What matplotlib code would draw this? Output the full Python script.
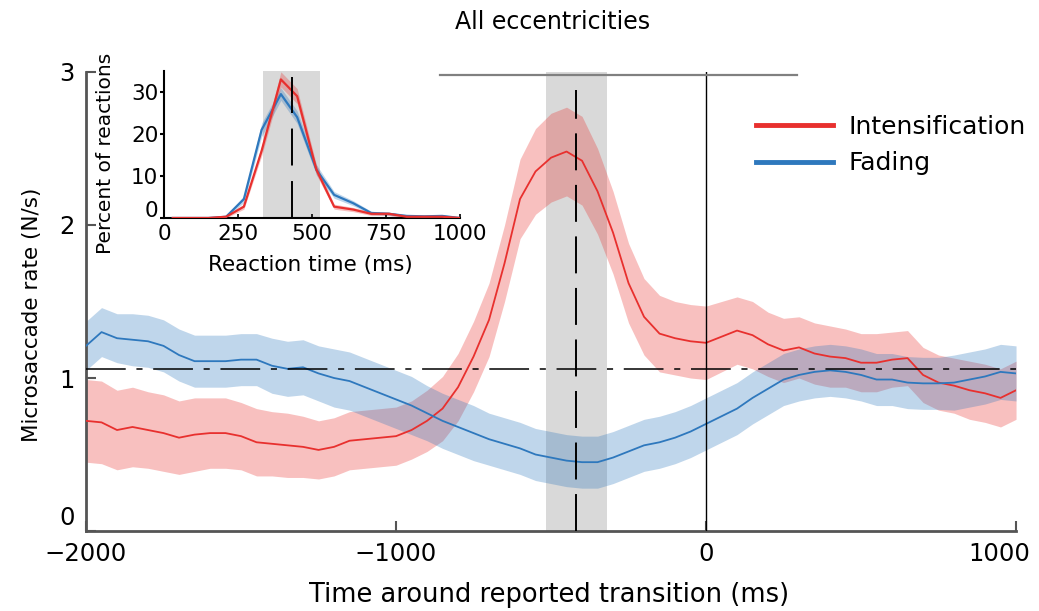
"""
Microsaccade rate around the reported transition (all eccentricities),
with the reaction time distribution as an inset.
"""
import numpy as np
import matplotlib
matplotlib.use('Agg')
import matplotlib.pyplot as plt
import matplotlib.transforms as mtransforms

plt.rcParams['font.family'] = ['DejaVu Sans']

# ---- main panel data (50 ms grid) ----
time_ms = np.arange(-2000, 1001, 50)
intens_rate = [0.72, 0.71, 0.66, 0.68, 0.66, 0.64, 0.61, 0.63, 0.64, 0.64,
               0.62, 0.58, 0.57, 0.56, 0.55, 0.53, 0.55, 0.59, 0.60, 0.61,
               0.62, 0.66, 0.72, 0.80, 0.94, 1.14, 1.38, 1.75, 2.17, 2.35,
               2.44, 2.48, 2.42, 2.22, 1.95, 1.62, 1.40, 1.29, 1.26, 1.24,
               1.23, 1.27, 1.31, 1.28, 1.22, 1.18, 1.20, 1.16, 1.14, 1.13,
               1.10, 1.10, 1.12, 1.13, 1.02, 0.97, 0.95, 0.92, 0.90, 0.87,
               0.92]
intens_err = [0.27, 0.27, 0.26, 0.26, 0.25, 0.25, 0.24,
              0.24, 0.23, 0.23, 0.22, 0.22, 0.21, 0.21, 0.20,
              0.19, 0.19, 0.19, 0.19, 0.19, 0.19, 0.19,
              0.20, 0.21, 0.22, 0.23, 0.24, 0.25, 0.26,
              0.28, 0.29, 0.29, 0.29, 0.28, 0.27,
              0.26, 0.25, 0.25, 0.24, 0.24, 0.24,
              0.23, 0.22, 0.22, 0.21, 0.21, 0.20, 0.20, 0.20, 0.19, 0.19,
              0.19, 0.18, 0.18, 0.18, 0.18, 0.18, 0.19, 0.19, 0.19, 0.19]
fading_rate = [1.21, 1.30, 1.26, 1.25, 1.24, 1.21, 1.15, 1.11, 1.11, 1.11,
               1.12, 1.12, 1.08, 1.06, 1.07, 1.03, 1.00, 0.98, 0.94, 0.90,
               0.86, 0.82, 0.77, 0.72, 0.68, 0.64, 0.60, 0.57, 0.54, 0.50,
               0.48, 0.46, 0.45, 0.45, 0.48, 0.52, 0.56, 0.58, 0.61, 0.65,
               0.70, 0.75, 0.80, 0.87, 0.93, 0.99, 1.02, 1.04, 1.05, 1.04,
               1.02, 0.99, 0.99, 0.97, 0.965, 0.965, 0.97, 0.99, 1.01, 1.04,
               1.03]
fading_err = [0.16, 0.16, 0.16, 0.17, 0.17, 0.17, 0.17, 0.17, 0.17, 0.17,
              0.17, 0.17, 0.18, 0.18, 0.18, 0.18, 0.19, 0.19, 0.19, 0.19,
              0.19, 0.19, 0.18, 0.18, 0.18, 0.18, 0.17, 0.17, 0.17, 0.17,
              0.17, 0.17, 0.17, 0.17, 0.17, 0.17, 0.17, 0.17, 0.17, 0.17,
              0.17, 0.17, 0.17, 0.17, 0.17, 0.17, 0.17, 0.17, 0.17, 0.17,
              0.17, 0.17, 0.17, 0.17, 0.17, 0.17, 0.18, 0.18, 0.18, 0.18,
              0.18]
baseline_rate = 1.06
rt_median_ms = -420
rt_window_ms = (-516, -320)
top_bar_ms = (-858, 293)

# ---- inset data: reaction time distribution ----
rt_bins = [30, 90, 150, 210, 270, 330, 395, 450, 515, 575, 640, 700, 760,
           820, 880, 940, 1000]
intens_pct = [0, 0, 0, 0.3, 2.7, 16, 33, 29, 11.5, 2.7, 2.0, 1.0, 1.0,
              0.3, 0.3, 0.3, 0]
fading_pct = [0, 0, 0, 0.3, 4.5, 21, 29.5, 24, 11.5, 5.5, 3.5, 1.2, 1.0,
              0.5, 0.4, 0.5, 0]
intens_pct_err = [0.2, 0.2, 0.2, 0.3, 0.6, 1.2, 1.8, 1.8, 1.2, 0.6, 0.5,
                  0.4, 0.4, 0.3, 0.3, 0.3, 0.2]
fading_pct_err = [0.2, 0.2, 0.2, 0.3, 0.8, 1.6, 1.5, 1.5, 1.2, 0.8, 0.6,
                  0.4, 0.4, 0.3, 0.3, 0.3, 0.2]
inset_window = (333, 527)
inset_median = 431

RED = '#e8302e'
BLUE = '#2e78bd'
AXC = '#555555'

fig = plt.figure(figsize=(10.39, 6.11), dpi=100)
ax = fig.add_axes([0.0828, 0.1309, 0.8951, 0.7513])

ax.axvspan(*rt_window_ms, color='#d9d9d9', lw=0, zorder=0)
ax.fill_between(time_ms, np.array(intens_rate) - intens_err,
                np.array(intens_rate) + intens_err,
                color=RED, alpha=0.3, lw=0, zorder=1)
ax.fill_between(time_ms, np.array(fading_rate) - fading_err,
                np.array(fading_rate) + fading_err,
                color=BLUE, alpha=0.3, lw=0, zorder=1)
ax.plot(time_ms, intens_rate, color=RED, lw=1.3, zorder=3,
        label='Intensification')
ax.plot(time_ms, fading_rate, color=BLUE, lw=1.3, zorder=3, label='Fading')

ax.axhline(baseline_rate, color='black', lw=1.1, zorder=4,
           dashes=(26, 7, 4, 7))
ax.axvline(0, color='black', lw=1.0, zorder=4)
ax.plot([rt_median_ms, rt_median_ms], [0, 2.88], color='black', lw=1.4,
        dashes=(19, 7.5), zorder=4)
ax.plot(top_bar_ms, [2.98, 2.98], color='#808080', lw=1.6, zorder=4,
        clip_on=False)

ax.set_xlim(-2000, 1000)
ax.set_ylim(0, 3)
ax.set_xticks([-2000, -1000, 0, 1000])
ax.set_xticklabels(['\u22122000', '\u22121000', '0', '1000'])
ax.set_yticks([0, 1, 2, 3])
for s in ['top', 'right']:
    ax.spines[s].set_visible(False)
for s in ['left', 'bottom']:
    ax.spines[s].set_color(AXC)
    ax.spines[s].set_linewidth(2)
ax.tick_params(direction='in', length=7, width=1.5, color=AXC,
               labelsize=17.5)
ax.tick_params(axis='x', pad=8)
ax.tick_params(axis='y', pad=8)
ax.set_xlabel('Time around reported transition (ms)', fontsize=18.5)
ax.xaxis.set_label_coords(0.498, -0.112)
ax.set_ylabel('Microsaccade rate (N/s)', fontsize=15.5)
ax.yaxis.set_label_coords(-0.047, 0.47)

# lift the "0" label and pull "1000" inward like in the original
off = mtransforms.ScaledTranslation(0, 16 / 100, fig.dpi_scale_trans)
lab0 = ax.get_yticklabels()[0]
lab0.set_transform(lab0.get_transform() + off)
offx = mtransforms.ScaledTranslation(-17 / 100, 0, fig.dpi_scale_trans)
lab1000 = ax.get_xticklabels()[-1]
lab1000.set_transform(lab1000.get_transform() + offx)

ax.legend(loc='upper left', bbox_to_anchor=(0.7276, 0.812),
          bbox_transform=fig.transFigure, frameon=False, fontsize=18,
          handlelength=3.1, handletextpad=0.6, labelspacing=0.5,
          borderpad=0, borderaxespad=0)
for h in ax.get_legend().get_lines():
    h.set_linewidth(3.5)

fig.text(553 / 1039, 1 - 22 / 611, 'All eccentricities', ha='center',
         va='center', fontsize=17)

# ---- inset ----
ins = fig.add_axes([0.1578, 0.6432, 0.2849, 0.2406])
ins.axvspan(*inset_window, color='#d9d9d9', lw=0, zorder=0)
ins.fill_between(rt_bins, np.array(fading_pct) - fading_pct_err,
                 np.array(fading_pct) + fading_pct_err,
                 color=BLUE, alpha=0.3, lw=0, zorder=1)
ins.fill_between(rt_bins, np.array(intens_pct) - intens_pct_err,
                 np.array(intens_pct) + intens_pct_err,
                 color=RED, alpha=0.3, lw=0, zorder=1)
ins.plot(rt_bins, fading_pct, color=BLUE, lw=1.6, zorder=3)
ins.plot(rt_bins, intens_pct, color=RED, lw=1.6, zorder=3)
ins.plot([inset_median, inset_median], [0, 33.6], color='black', lw=1.4,
         dashes=(19, 8), zorder=4)
ins.set_xlim(0, 1000)
ins.set_ylim(0, 35)
ins.set_xticks([0, 250, 500, 750, 1000])
ins.set_yticks([0, 10, 20, 30])
ins.patch.set_alpha(0)
for s in ['top', 'right']:
    ins.spines[s].set_visible(False)
for s in ['left', 'bottom']:
    ins.spines[s].set_linewidth(1.5)
ins.tick_params(axis='y', direction='out', length=3, width=1.5, pad=1,
                labelsize=15.5)
ins.tick_params(axis='x', direction='in', length=3, width=1.2, pad=4,
                labelsize=15.5)
ins.set_xlabel('Reaction time (ms)', fontsize=15.5)
ins.xaxis.set_label_coords(0.493, -0.25)
ins.set_ylabel('Percent of reactions', fontsize=14.5)
ins.yaxis.set_label_coords(-0.165, 0.44)
off2 = mtransforms.ScaledTranslation(0, 9 / 100, fig.dpi_scale_trans)
ilab0 = ins.get_yticklabels()[0]
ilab0.set_transform(ilab0.get_transform() + off2)

fig.savefig('out.png', dpi=100)
